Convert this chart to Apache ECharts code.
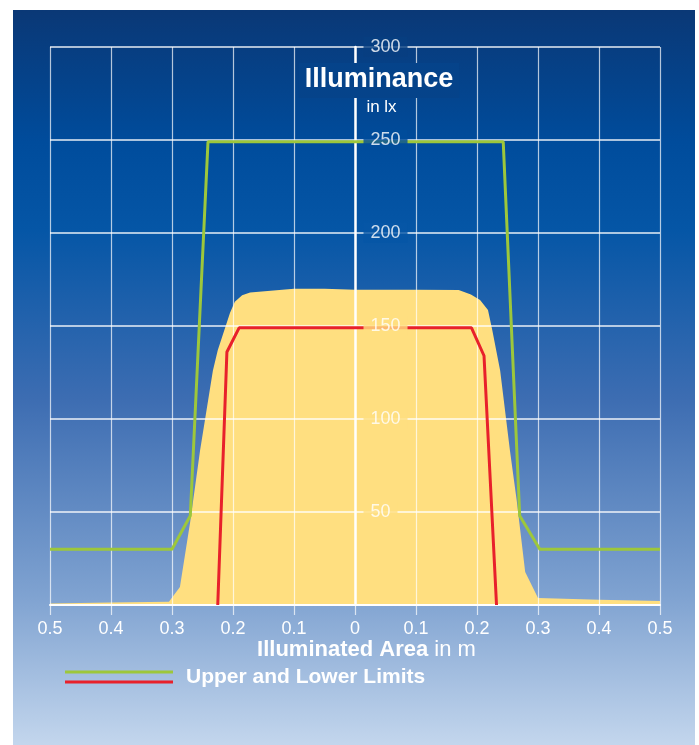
<!DOCTYPE html>
<html><head><meta charset="utf-8">
<script src="https://cdn.jsdelivr.net/npm/echarts@6/dist/echarts.min.js"></script>
<style>
html,body{margin:0;padding:0;background:#fff;}
#c{position:absolute;left:13px;top:10px;width:682px;height:735px;}
</style></head><body><div id="c"></div>
<script>
// ---- data ----
const areaX = [-0.5, -0.4, -0.305, -0.287, -0.27, -0.254, -0.233, -0.225, -0.205, -0.197, -0.185, -0.172, -0.1, -0.05, 0, 0.1, 0.17, 0.19, 0.205, 0.218, 0.225, 0.238, 0.254, 0.265, 0.279, 0.3, 0.4, 0.5];
const areaY = [0.8, 1.3, 1.8, 9.7, 45, 83, 126, 137, 157, 163, 166.5, 168, 170, 170, 169.5, 169.5, 169.4, 167, 164, 158.6, 147.8, 126, 83, 56.5, 17.7, 3.8, 2.8, 2.2];
const upperX = [-0.5, -0.3, -0.27, -0.241, 0.243, 0.27, 0.303, 0.5];
const upperY = [30, 30, 48, 249, 249, 48, 30, 30];
const lowerX = [-0.225, -0.21, -0.19, 0.191, 0.2115, 0.232];
const lowerY = [0, 136, 149, 149, 134, 0];
const yTicks = [50, 100, 150, 200, 250, 300];
const xTickLabels = ['0.5','0.4','0.3','0.2','0.1','0','0.1','0.2','0.3','0.4','0.5'];
const yTitle = 'Illuminance';
const yUnit = 'in lx';
const xTitleBold = 'Illuminated Area';
const xTitleUnit = ' in m';
const legendText = 'Upper and Lower Limits';

// ---- style ----
const FONT = '"Liberation Sans", Arial, sans-serif';
const YELLOW = '#FFDF80';
const GREEN = '#9DC73B';
const RED = '#E8212B';
const H = 735;
const bgStops = [[0,[10,56,118]],[0.18,[0,76,156]],[0.3,[5,86,166]],[0.53,[61,109,178]],[0.8,[128,163,209]],[1,[195,214,237]]];
function bgAt(f){
  for(let i=1;i<bgStops.length;i++){
    if(f<=bgStops[i][0]){
      const a=bgStops[i-1], b=bgStops[i];
      const t=(f-a[0])/(b[0]-a[0]);
      const c=a[1].map((v,k)=>Math.round(v+(b[1][k]-v)*t));
      return 'rgb('+c.join(',')+')';
    }
  }
  return 'rgb('+bgStops[bgStops.length-1][1].join(',')+')';
}
const gridTop = 37, gridBottom = 140, gridH = H - gridTop - gridBottom;
const areaAtCenter = areaY[areaX.indexOf(0)];
const rich = {};
yTicks.forEach(v=>{
  const yPix = gridTop + (300 - v)/300*gridH;
  rich['c'+v] = {
    color:'#fff', fontSize:18, fontFamily:FONT, lineHeight:18,
    padding:[1,7,1,7],
    backgroundColor: v < areaAtCenter ? YELLOW : bgAt(yPix/H)
  };
});

const chart = echarts.init(document.getElementById('c'));
chart.setOption({
  backgroundColor: new echarts.graphic.LinearGradient(0,0,0,1, bgStops.map(s=>({offset:s[0], color:'rgb('+s[1].join(',')+')'}))),
  animation:false,
  grid:{left:37, right:35, top:gridTop, bottom:gridBottom},
  xAxis:{
    type:'value', min:-0.5, max:0.5, interval:0.1, z:3,
    axisLine:{show:true, onZero:false, lineStyle:{color:'#fff', width:2}},
    axisTick:{show:true, length:10, lineStyle:{color:'rgba(255,255,255,0.7)', width:1.2}},
    axisLabel:{color:'#fff', fontSize:18, fontFamily:FONT, margin:15,
      formatter:(v,i)=>xTickLabels[i]},
    splitLine:{show:true, lineStyle:{color:'rgba(255,255,255,0.7)', width:1.2}}
  },
  yAxis:{
    type:'value', min:0, max:300, interval:50, z:3,
    axisLine:{show:true, onZero:true, lineStyle:{color:'#fff', width:2.5}},
    axisTick:{show:false},
    axisLabel:{show:false},
    splitLine:{show:true, lineStyle:{color:'rgba(255,255,255,0.9)', width:1.5}}
  },
  series:[
    {type:'line', z:1, silent:true, showSymbol:false, data:areaX.map((x,i)=>[x,areaY[i]]),
      lineStyle:{width:0}, areaStyle:{color:YELLOW, opacity:1}},
    {type:'line', z:5, silent:true, showSymbol:false, data:upperX.map((x,i)=>[x,upperY[i]]),
      lineStyle:{width:3, color:GREEN}},
    {type:'line', z:5, silent:true, showSymbol:false, data:lowerX.map((x,i)=>[x,lowerY[i]]),
      lineStyle:{width:3, color:RED}},
    {type:'scatter', z:10, silent:true, symbolSize:1, itemStyle:{color:'rgba(0,0,0,0)'},
      data:yTicks.map(v=>[0,v]),
      label:{show:true, position:'right', distance:8,
        formatter:p=>'{c'+p.value[1]+'|'+p.value[1]+'}', rich:rich}}
  ],
  graphic:[
    {type:'text', x:366, y:53, z:100, style:{text:yTitle, fill:'#fff', font:'bold 27px '+FONT,
      align:'center', verticalAlign:'top', lineHeight:27, padding:[3,6,5,6], backgroundColor:bgAt(70/H)}},
    {type:'text', x:368.5, y:97, z:100, style:{text:yUnit, fill:'#fff', font:'17px '+FONT,
      align:'center', verticalAlign:'middle'}},
    {type:'text', x:353.5, y:640, z:100, style:{text:'{b|'+xTitleBold+'}{n|'+xTitleUnit+'}',
      align:'center', verticalAlign:'middle',
      rich:{b:{fill:'#fff', font:'bold 22px '+FONT}, n:{fill:'#fff', font:'22px '+FONT}}}},
    {type:'line', z:100, shape:{x1:52,y1:662,x2:160,y2:662}, style:{stroke:GREEN, lineWidth:3}},
    {type:'line', z:100, shape:{x1:52,y1:672,x2:160,y2:672}, style:{stroke:RED, lineWidth:3}},
    {type:'text', x:173, y:667, z:100, style:{text:legendText, fill:'#fff', font:'bold 21px '+FONT,
      align:'left', verticalAlign:'middle'}}
  ]
});
</script></body></html>
